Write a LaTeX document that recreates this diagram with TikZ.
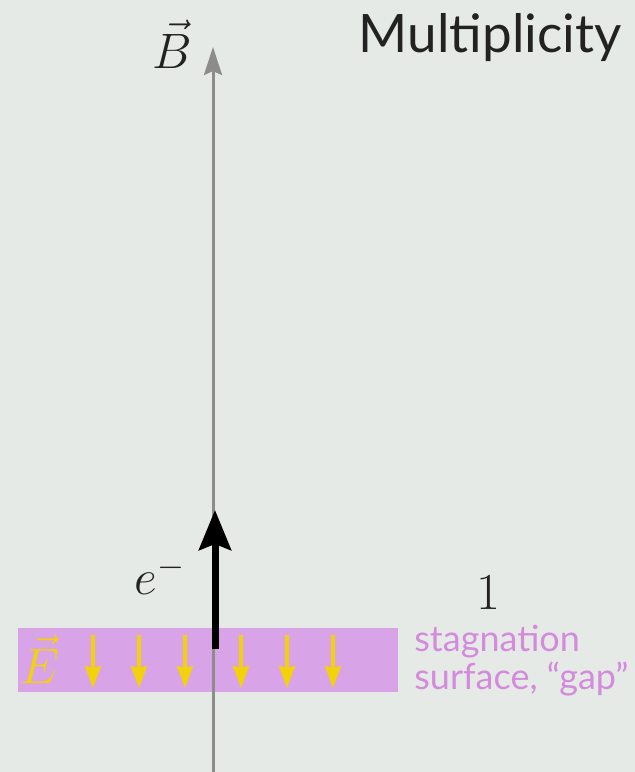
\documentclass[tikz,border=0pt]{standalone}
\usepackage{fontspec}
\usepackage{tikz}
\usetikzlibrary{arrows.meta,positioning}
\newfontfamily\gillish{Lato}
\definecolor{slidebg}{HTML}{E6EAE6}
\definecolor{gapfill}{HTML}{D9A3E8}
\definecolor{gaptext}{HTML}{D48BDD}
\definecolor{efield}{HTML}{F2D20A}
\definecolor{axisgray}{HTML}{8C8C8C}
\definecolor{inkdark}{HTML}{222222}
\tikzset{
  axisarr/.style={-{Stealth[length=14pt,width=9pt,inset=2pt]}, line width=1.5pt, draw=axisgray},
  elecarr/.style={-{Stealth[length=20pt,width=16pt,inset=3pt]}, line width=3.5pt, draw=black},
  fieldarr/.style={-{Stealth[length=11pt,width=8pt,inset=1pt]}, line width=1.6pt, draw=efield},
  mathlbl/.style={text=inkdark, inner sep=0pt, font=\fontsize{24}{28}\selectfont},
  gaplbl/.style={text=gaptext, align=left, inner sep=0pt, anchor=north west,
    font=\gillish\fontsize{18}{19}\selectfont}
}
\begin{document}
\begin{tikzpicture}[x=0.5pt,y=0.5pt]
        \useasboundingbox[fill=slidebg] (0,0) rectangle (635,772);
        % gap region
        \fill[gapfill] (18,80) rectangle (398,144);
        \node[text=efield, inner sep=0pt, font=\fontsize{24}{28}\selectfont] (Elbl) at (40,113) {$\vec{E}$};
        \foreach \ex [count=\i] in {93,139,185,241,287,333} {
          \coordinate (ft\i) at (\ex,137);
          \coordinate (fb\i) at (\ex,84);
          \draw[fieldarr] (ft\i) -- (fb\i);
        }
        % field line and electron
        \coordinate (axbot) at (213,0);
        \coordinate (axtop) at (213,725);
        \draw[axisarr] (axbot) -- (axtop);
        \coordinate (estart) at (215,123);
        \coordinate (etip) at (215,262);
        \draw[elecarr] (estart) -- (etip);
        \node[mathlbl] (Blbl) at (172,728) {$\vec{B}$};
        \node[mathlbl] (elbl) at (160,197) {$e^{-}$};
        \node[mathlbl, font=\fontsize{26}{30}\selectfont] (mult) at (488,180) {1};
        \node[text=inkdark, anchor=east, inner sep=0pt, font=\gillish\fontsize{26.5}{30}\selectfont] (title) at (622,734) {Multiplicity};
        \node[gaplbl] (gaptxt) at (414,147) {stagnation\\surface, “gap”};
      \end{tikzpicture}
\end{document}
